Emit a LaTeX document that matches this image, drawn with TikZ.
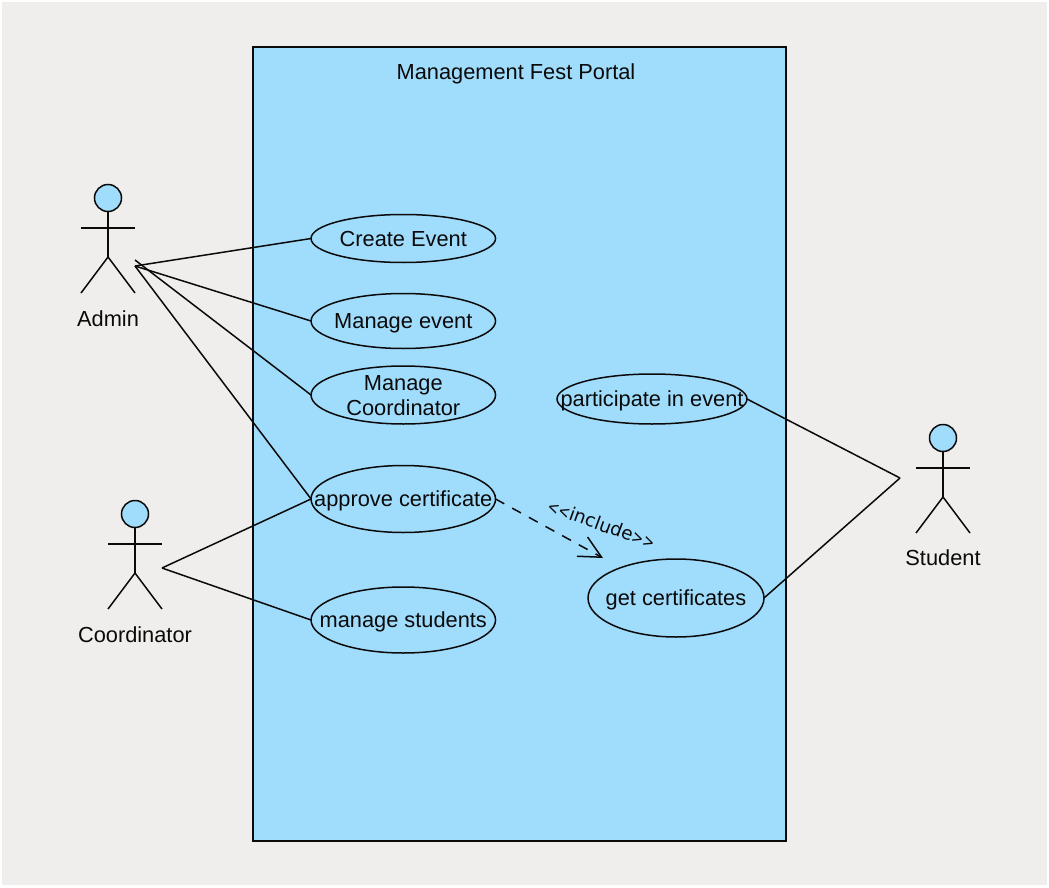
\documentclass[tikz,border=0pt]{standalone}
\usepackage{graphicx}
\usepackage{fontspec}
\setmainfont{Liberation Sans}
\newfontfamily\inclfont{DejaVu Sans}
\usetikzlibrary{shapes.geometric,arrows.meta}
\definecolor{bgc}{HTML}{EFEEEC}
\definecolor{sysc}{HTML}{A0DCFC}
\definecolor{inkc}{HTML}{0A0A0A}
\tikzset{
  x=1pt,y=-1pt,
  every node/.style={font=\fontsize{21.8}{25}\selectfont,text=inkc},
  ln/.style={draw=inkc,line width=1.5pt},
  ucase/.style={ellipse,ln,inner sep=0pt,outer sep=0pt},
  uctext/.style={align=center,inner sep=0pt,yshift=-1.7pt},
  head/.style={circle,ln,fill=sysc,inner sep=0pt,outer sep=0pt,minimum size=27pt},
  assoc/.style={ln},
  incl/.style={ln,dashed,dash pattern=on 10pt off 9pt,-{Straight Barb[length=22pt,width=22pt,line width=1.5pt]}}
}
\newcommand{\stickman}[3]{%
  \node[head] (#3h) at (#1,#2) {};
  \coordinate (#3n) at (#1,#2+59);
  \draw[ln] (#3h) -- (#3n);
  \draw[ln] (#1-27,#2+30) -- (#1+27,#2+30);
  \draw[ln] (#1-27,#2+95) -- (#3n) -- (#1+27,#2+95);
}
\begin{document}
\begin{tikzpicture}
\useasboundingbox (0,0) rectangle (1049,888);
\fill[white] (0,0) rectangle (1049,888);
\fill[bgc] (2,2) rectangle (1047,885);
\node[ln,fill=sysc,minimum width=533pt,minimum height=794pt,inner sep=0pt,outer sep=0pt] (sys) at (519.5,444) {};
\node (title) at (516,73.5) {Management Fest Portal};

\stickman{108}{198}{adm}
\stickman{135}{514}{coo}
\stickman{943}{438}{stu}
\node (admL) at (108,319) {Admin};
\node (cooL) at (135,635) {Coordinator};
\node (stuL) at (943,558) {Student};

\node[ucase,minimum width=184.5pt,minimum height=48pt,label={[uctext,yshift=1.4pt]center:Create Event}] (create) at (403.3,238.5) {};
\node[ucase,minimum width=184.5pt,minimum height=55pt,label={[uctext,yshift=-0.6pt]center:Manage event}] (manage) at (403.3,321) {};
\node[ucase,minimum width=184.5pt,minimum height=58pt,label={[uctext,yshift=1pt]center:{Manage\\Coordinator}}] (mcoord) at (403.3,395) {};
\node[ucase,minimum width=184.5pt,minimum height=67pt,label={[uctext]center:approve certificate}] (approve) at (403.3,499) {};
\node[ucase,minimum width=184.5pt,minimum height=66pt,label={[uctext]center:manage students}] (mstud) at (403.3,620) {};
\node[ucase,minimum width=190pt,minimum height=50pt,label={[uctext]center:participate in event}] (part) at (652,399) {};
\node[ucase,minimum width=176pt,minimum height=78pt,label={[uctext]center:get certificates}] (getc) at (676,598) {};

\coordinate (a1) at (135,266);
\coordinate (a2) at (135,260);
\coordinate (c1) at (162,568);
\coordinate (s1) at (900,478);
\coordinate (itip) at (603,558);

\draw[assoc] (a1) -- (create.west);
\draw[assoc] (a1) -- (manage.west);
\draw[assoc] (a2) -- (mcoord.west);
\draw[assoc] (a1) -- (approve.west);
\draw[assoc] (c1) -- (approve.west);
\draw[assoc] (c1) -- (mstud.west);
\draw[assoc] (part.east) -- (s1);
\draw[assoc] (getc.east) -- (s1);
\draw[incl] (approve.east) -- (itip);
\node[rotate=-20,font=\inclfont\fontsize{18.4}{22}\selectfont] (inclL) at (601.5,524) {\scalebox{0.75}[0.95]{<<}include\scalebox{0.75}[0.95]{>>}};
\end{tikzpicture}
\end{document}
